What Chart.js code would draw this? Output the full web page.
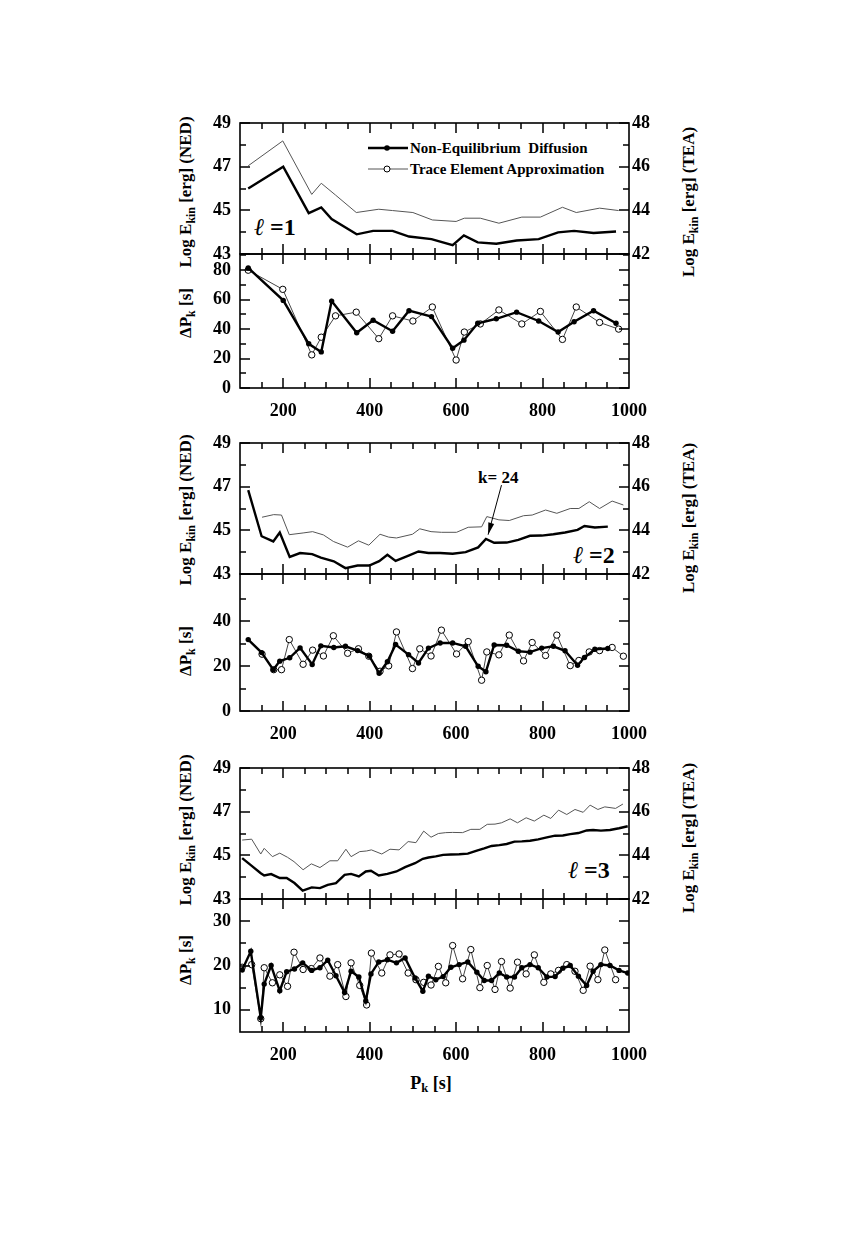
<!DOCTYPE html>
<html>
<head>
<meta charset="utf-8">
<script src="https://cdn.jsdelivr.net/npm/chart.js@4.4.1/dist/chart.umd.min.js"></script>
<style>
  body { margin: 0; background: #fff; }
  #page { position: relative; width: 862px; height: 1241px; overflow: hidden;
          font-family: "Liberation Serif", "DejaVu Serif", serif; font-weight: bold; color: #000; }
  #page canvas { position: absolute; left: 0; }
  .abs { position: absolute; white-space: nowrap; }
  .ytitle { position: absolute; white-space: nowrap; font-size: 17px; line-height: 20px;
            transform: translate(-50%, -50%) rotate(-90deg); }
  sub { font-size: 70%; vertical-align: -0.3em; line-height: 0; }
  .leg { font-size: 15px; line-height: 18px; }
  .ell { font-weight: normal; font-style: italic; }
  .lab { font-size: 24px; line-height: 30px; }
</style>
</head>
<body>
<div id="page">
  <div class="ytitle" style="left:186px;top:192px">Log E<sub>kin</sub> [erg] (NED)</div>
  <div class="ytitle" style="left:689px;top:202px">Log E<sub>kin</sub> [erg] (TEA)</div>
  <div class="ytitle" style="left:186px;top:313px">&Delta;P<sub>k</sub> [s]</div>

  <div class="ytitle" style="left:186px;top:510px">Log E<sub>kin</sub> [erg] (NED)</div>
  <div class="ytitle" style="left:689px;top:518px">Log E<sub>kin</sub> [erg] (TEA)</div>
  <div class="ytitle" style="left:186px;top:651px">&Delta;P<sub>k</sub> [s]</div>

  <div class="ytitle" style="left:186px;top:830px">Log E<sub>kin</sub> [erg] (NED)</div>
  <div class="ytitle" style="left:689px;top:838px">Log E<sub>kin</sub> [erg] (TEA)</div>
  <div class="ytitle" style="left:186px;top:960px">&Delta;P<sub>k</sub> [s]</div>

  <div class="abs" style="left:431px;top:1083px;font-size:18px;transform:translate(-50%,-50%)">P<sub>k</sub> [s]</div>

  <svg class="abs" style="left:366px;top:142px" width="44" height="34">
    <line x1="2" y1="6" x2="42" y2="6" stroke="#000" stroke-width="2.4"/>
    <circle cx="21" cy="6" r="2.8" fill="#000"/>
    <line x1="2" y1="27" x2="42" y2="27" stroke="#555" stroke-width="1"/>
    <circle cx="21" cy="27" r="3" fill="#fff" stroke="#000" stroke-width="1"/>
  </svg>
  <div class="abs leg" style="left:410px;top:139px">Non-Equilibrium&nbsp; Diffusion</div>
  <div class="abs leg" style="left:410px;top:160px">Trace Element Approximation</div>

  <div class="abs lab" style="left:254px;top:212px"><span class="ell">&#8467;</span> =1</div>
  <div class="abs lab" style="left:573px;top:540px"><span class="ell">&#8467;</span> =2</div>
  <div class="abs lab" style="left:568px;top:855px"><span class="ell">&#8467;</span> =3</div>
  <div class="abs" style="left:478px;top:470px;font-size:17px;line-height:16px">k=&nbsp;24</div>
</div>

<script>
// tick labels
const X_TICKS = [200, 400, 600, 800, 1000];
const E_TICKS_NED = [43, 45, 47, 49];
const E_MINOR = [44, 46, 48];
const E_TICKS_TEA = [42, 44, 46, 48];
const DP1_TICKS = [0, 20, 40, 60, 80];
const DP1_MINOR = [10, 30, 50, 70, 90];
const DP2_TICKS = [0, 20, 40];
const DP2_MINOR = [10, 30, 50];
const DP3_TICKS = [10, 20, 30];
const DP3_MINOR = [15, 25];

// l = 1
const P1_NED = [119, 200, 259, 288, 312, 370, 408, 453, 491, 543, 592, 618, 650, 693, 740, 791, 836, 873, 918, 970];
const E1_NED = [46.0, 47.0, 44.87, 45.13, 44.6, 43.9, 44.06, 44.06, 43.8, 43.68, 43.4, 43.85, 43.53, 43.47, 43.62, 43.68, 43.99, 44.06, 43.96, 44.03];
const DP1_NED = [81.5, 59.5, 30, 24.5, 59, 37.5, 46, 38.5, 52.5, 48.5, 27, 32.5, 44, 47, 51.5, 45.5, 38, 45, 52.5, 44];
const P1_TEA = [119, 199, 266, 288, 321, 369, 421, 453, 500, 545, 600, 619, 656, 699, 752, 795, 846, 878, 932, 976];
const E1_TEA = [46.04, 47.18, 44.73, 45.24, 44.70, 43.90, 44.05, 43.99, 43.90, 43.56, 43.49, 43.64, 43.64, 43.41, 43.69, 43.69, 44.14, 43.90, 44.10, 43.99];
const DP1_TEA = [80, 67, 22.5, 34.5, 49, 51.5, 33.5, 49, 45.5, 55, 19, 38, 43.5, 53, 43.5, 52, 33, 55, 44.5, 40];

// l = 2
const P2_NED = [119, 150, 177, 192, 215, 239, 267, 287, 317, 344, 372, 399, 422, 441, 460, 490, 513, 536, 563, 592, 622, 651, 669, 688, 717, 744, 771, 798, 825, 852, 881, 897, 921, 951];
const E2_NED = [46.84, 44.73, 44.49, 44.9, 43.78, 43.96, 43.91, 43.75, 43.58, 43.27, 43.39, 43.39, 43.59, 43.88, 43.6, 43.84, 44.03, 43.96, 43.96, 43.93, 44.0, 44.22, 44.61, 44.43, 44.44, 44.56, 44.75, 44.76, 44.82, 44.9, 45.02, 45.2, 45.13, 45.17];
const DP2_NED = [31.8, 26, 18.4, 22.2, 23.7, 28.1, 20.7, 29, 28.3, 28.8, 26.9, 24.5, 16.8, 21.9, 29.6, 25.1, 21.4, 28, 30.3, 30.3, 28.8, 19.9, 17.5, 29.4, 29.3, 26.6, 26.2, 28, 28.8, 26.8, 20.4, 23.8, 27.5, 27.8];
const P2_TEA = [151, 178, 196, 214, 246, 268, 293, 316, 349, 374, 398, 424, 444, 462, 499, 516, 542, 566, 601, 628, 659, 671, 699, 723, 756, 776, 807, 833, 864, 884, 908, 932, 961, 987];
const E2_TEA = [44.6, 44.72, 44.7, 43.8, 43.88, 43.94, 43.79, 43.49, 43.23, 43.52, 43.32, 43.82, 43.69, 43.65, 43.82, 44.07, 43.94, 43.91, 43.91, 44.14, 44.16, 44.63, 44.48, 44.45, 44.67, 44.7, 44.93, 44.78, 45.0, 45.0, 45.31, 45.0, 45.34, 45.16];
const DP2_TEA = [25.3, 18.4, 18.4, 31.8, 20.8, 27.1, 24.5, 33.5, 25.7, 27.7, 24.4, 17.7, 20.1, 35.2, 18.9, 27.7, 24.5, 36, 25.4, 30.9, 13.7, 26.3, 25, 33.8, 22.3, 30.5, 24.7, 33.8, 20.2, 22.5, 26.3, 26.9, 28.3, 24.4];

// l = 3
const P3_NED = [105, 125, 148, 156, 172, 192, 208, 226, 245, 266, 285, 303, 322, 342, 357, 375, 391, 403, 421, 441, 462, 482, 505, 523, 536, 553, 570, 588, 607, 627, 648, 665, 682, 700, 717, 735, 752, 771, 790, 810, 829, 847, 864, 883, 902, 917, 935, 956, 977, 997];
const E3_NED = [44.87, 44.55, 44.18, 44.08, 44.14, 43.96, 43.96, 43.73, 43.38, 43.53, 43.5, 43.65, 43.73, 44.11, 44.15, 44.03, 44.26, 44.29, 44.08, 44.15, 44.26, 44.46, 44.64, 44.84, 44.9, 44.95, 45.02, 45.04, 45.05, 45.08, 45.22, 45.32, 45.43, 45.47, 45.52, 45.63, 45.64, 45.67, 45.73, 45.82, 45.9, 45.91, 45.97, 46.02, 46.14, 46.16, 46.13, 46.16, 46.24, 46.33];
const DP3_NED = [19.0, 23.2, 8.2, 15.8, 20.0, 14.3, 18.6, 19.2, 20.6, 18.9, 19.5, 21.2, 17.7, 13.9, 18.7, 17.4, 12.0, 18.1, 20.8, 21.3, 20.6, 21.7, 17.2, 14.2, 17.6, 16.8, 17.5, 19.6, 20.2, 20.8, 18.5, 16.6, 16.6, 18.3, 17.4, 17.4, 19.5, 20.2, 19.5, 17.4, 17.5, 19.4, 20.0, 17.6, 15.5, 18.7, 20.2, 20.0, 18.9, 18.3];
const P3_TEA = [105, 127, 148, 156, 175, 192, 210, 225, 246, 265, 285, 308, 326, 345, 357, 377, 393, 404, 428, 447, 468, 489, 507, 525, 542, 559, 576, 592, 615, 634, 655, 672, 690, 705, 725, 742, 762, 781, 803, 819, 837, 856, 875, 894, 910, 928, 944, 969];
const P3_TEA_E = [...P3_TEA, 986];
const E3_TEA = [44.70, 44.74, 44.06, 44.32, 43.94, 44.10, 43.91, 43.71, 43.34, 43.61, 43.44, 43.75, 43.75, 44.28, 43.94, 44.17, 44.20, 44.25, 44.06, 44.28, 44.25, 44.63, 44.58, 45.11, 44.83, 45.00, 45.04, 45.05, 45.04, 45.19, 45.19, 45.42, 45.43, 45.49, 45.67, 45.49, 45.72, 45.57, 45.84, 45.69, 46.07, 45.87, 46.10, 45.97, 46.30, 46.10, 46.22, 46.15, 46.35];
const DP3_TEA = [19.6, 20.2, 8.0, 19.5, 16.1, 17.9, 15.3, 23.0, 19.1, 19.3, 21.7, 17.6, 20.2, 13.0, 20.6, 15.5, 11.1, 22.8, 18.3, 22.4, 22.6, 18.3, 16.8, 16.2, 15.6, 19.8, 16.1, 24.5, 17.0, 23.6, 15.0, 20.0, 14.6, 20.9, 14.9, 20.75, 18.1, 22.4, 16.2, 18.1, 18.9, 20.2, 18.7, 14.4, 19.85, 16.8, 23.5, 16.8];

const TICK_FONT = { family: "Liberation Serif", size: 18, weight: "bold" };

// frame with inward ticks, like the paper figure
const framePlugin = {
  id: "frame",
  afterDraw(chart) {
    const f = chart.canvas._frame;
    if (!f) return;
    const { ctx, chartArea: a, scales } = chart;
    ctx.save();
    ctx.fillStyle = "#000";
    ctx.strokeStyle = "#000";
    ctx.lineWidth = 1.6;
    ctx.strokeRect(a.left, a.top, a.right - a.left, a.bottom - a.top);
    for (let v = 150; v < 1000; v += 50) {
      const px = Math.round(scales.x.getPixelForValue(v));
      const len = v % 200 === 0 ? 10 : 6;
      ctx.fillRect(px - 0.75, a.top, 1.5, len);
      ctx.fillRect(px - 0.75, a.bottom - len, 1.5, len);
    }
    const yTick = (v, len) => {
      const py = Math.round(scales.y.getPixelForValue(v));
      ctx.fillRect(a.left, py - 0.75, len, 1.5);
      ctx.fillRect(a.right - len, py - 0.75, len, 1.5);
    };
    f.major.forEach((v) => yTick(v, 10));
    f.minor.forEach((v) => yTick(v, 6));
    ctx.restore();
  },
};

const arrowPlugin = {
  id: "arrow",
  afterDraw(chart) {
    const ar = chart.canvas._arrow;
    if (!ar) return;
    const { ctx, scales } = chart;
    const x1 = scales.x.getPixelForValue(ar.from[0]);
    const y1 = scales.y.getPixelForValue(ar.from[1]);
    const x2 = scales.x.getPixelForValue(ar.to[0]);
    const y2 = scales.y.getPixelForValue(ar.to[1]);
    const ang = Math.atan2(y2 - y1, x2 - x1);
    ctx.save();
    ctx.strokeStyle = "#000";
    ctx.fillStyle = "#000";
    ctx.lineWidth = 1;
    ctx.beginPath();
    ctx.moveTo(x1, y1);
    ctx.lineTo(x2, y2);
    ctx.stroke();
    ctx.beginPath();
    ctx.moveTo(x2, y2);
    ctx.lineTo(x2 - 12 * Math.cos(ang) + 3 * Math.sin(ang), y2 - 12 * Math.sin(ang) - 3 * Math.cos(ang));
    ctx.lineTo(x2 - 12 * Math.cos(ang) - 3 * Math.sin(ang), y2 - 12 * Math.sin(ang) + 3 * Math.cos(ang));
    ctx.closePath();
    ctx.fill();
    ctx.restore();
  },
};

Chart.register(framePlugin, arrowPlugin);

const pts = (xs, ys) => xs.map((x, i) => ({ x: x, y: ys[i] }));
const ticksFrom = (arr) => (scale) => {
  scale.ticks = arr.map((v) => ({ value: v }));
};
const plain = (v) => String(v);

function nedLine(xs, ys) {
  return { data: pts(xs, ys), yAxisID: "y", borderColor: "#000", borderWidth: 2.4, pointRadius: 0 };
}
function teaLine(xs, ys) {
  return { data: pts(xs, ys), yAxisID: "yR", borderColor: "#555", borderWidth: 1, pointRadius: 0 };
}
function nedDots(xs, ys) {
  return { data: pts(xs, ys), yAxisID: "y", borderColor: "#000", borderWidth: 2.4,
           pointRadius: 2.7, pointBackgroundColor: "#000", pointBorderColor: "#000", pointBorderWidth: 0 };
}
function teaDots(xs, ys) {
  return { data: pts(xs, ys), yAxisID: "y", borderColor: "#444", borderWidth: 1,
           pointRadius: 3.2, pointBackgroundColor: "#fff", pointBorderColor: "#000", pointBorderWidth: 1 };
}

function makePanel(top, bottom, cfg) {
  const pad = 24;
  const below = cfg.xLabels ? 48 : pad;
  const c = document.createElement("canvas");
  c.width = 862;
  c.height = bottom - top + pad + below;
  c.style.top = top - pad + "px";
  c._frame = { major: cfg.major, minor: cfg.minor };
  c._arrow = cfg.arrow || null;
  document.getElementById("page").appendChild(c);
  const right = cfg.right || { min: cfg.min, max: cfg.max, ticks: [] };
  return new Chart(c, {
    type: "line",
    data: { datasets: cfg.datasets },
    options: {
      responsive: false,
      animation: false,
      events: [],
      layout: { padding: { top: pad, bottom: cfg.xLabels ? 0 : pad, left: 0, right: 0 } },
      elements: { line: { tension: 0 } },
      plugins: { legend: { display: false }, tooltip: { enabled: false } },
      scales: {
        x: {
          type: "linear", min: 100, max: 1000, display: !!cfg.xLabels,
          grid: { display: false, drawTicks: false }, border: { display: false },
          afterBuildTicks: ticksFrom(X_TICKS),
          afterFit: (s) => { s.height = cfg.xLabels ? below : 0; },
          ticks: { font: TICK_FONT, color: "#000", padding: 13, maxRotation: 0, autoSkip: false, callback: plain },
        },
        y: {
          position: "left", min: cfg.min, max: cfg.max,
          grid: { display: false, drawTicks: false }, border: { display: false },
          afterBuildTicks: ticksFrom(cfg.ticks),
          afterFit: (s) => { s.width = 240; },
          ticks: { font: TICK_FONT, color: "#000", padding: 9, autoSkip: false, callback: plain },
        },
        yR: {
          position: "right", min: right.min, max: right.max,
          grid: { display: false, drawTicks: false }, border: { display: false },
          afterBuildTicks: ticksFrom(right.ticks),
          afterFit: (s) => { s.width = 862 - 629; },
          ticks: { display: !!cfg.right, font: TICK_FONT, color: "#000", padding: 3, autoSkip: false, callback: plain },
        },
      },
    },
  });
}

// l = 1
makePanel(123, 254, {
  min: 43, max: 49, ticks: E_TICKS_NED, major: E_TICKS_NED, minor: E_MINOR,
  right: { min: 42, max: 48, ticks: E_TICKS_TEA },
  datasets: [nedLine(P1_NED, E1_NED), teaLine(P1_TEA, E1_TEA)],
});
makePanel(254, 388, {
  min: 0, max: 91, ticks: DP1_TICKS, major: DP1_TICKS, minor: DP1_MINOR, xLabels: true,
  datasets: [nedDots(P1_NED, DP1_NED), teaDots(P1_TEA, DP1_TEA)],
});

// l = 2
makePanel(443, 574, {
  min: 43, max: 49, ticks: E_TICKS_NED, major: E_TICKS_NED, minor: E_MINOR,
  right: { min: 42, max: 48, ticks: E_TICKS_TEA },
  arrow: { from: [705, 47.07], to: [674, 44.8] },
  datasets: [nedLine(P2_NED, E2_NED), teaLine(P2_TEA, E2_TEA)],
});
makePanel(574, 711, {
  min: 0, max: 61, ticks: DP2_TICKS, major: DP2_TICKS, minor: DP2_MINOR, xLabels: true,
  datasets: [nedDots(P2_NED, DP2_NED), teaDots(P2_TEA, DP2_TEA)],
});

// l = 3
makePanel(768, 899, {
  min: 43, max: 49, ticks: E_TICKS_NED, major: E_TICKS_NED, minor: E_MINOR,
  right: { min: 42, max: 48, ticks: E_TICKS_TEA },
  datasets: [nedLine(P3_NED, E3_NED), teaLine(P3_TEA_E, E3_TEA)],
});
makePanel(899, 1032, {
  min: 5, max: 35, ticks: DP3_TICKS, major: DP3_TICKS, minor: DP3_MINOR, xLabels: true,
  datasets: [nedDots(P3_NED, DP3_NED), teaDots(P3_TEA, DP3_TEA)],
});
</script>
</body>
</html>
